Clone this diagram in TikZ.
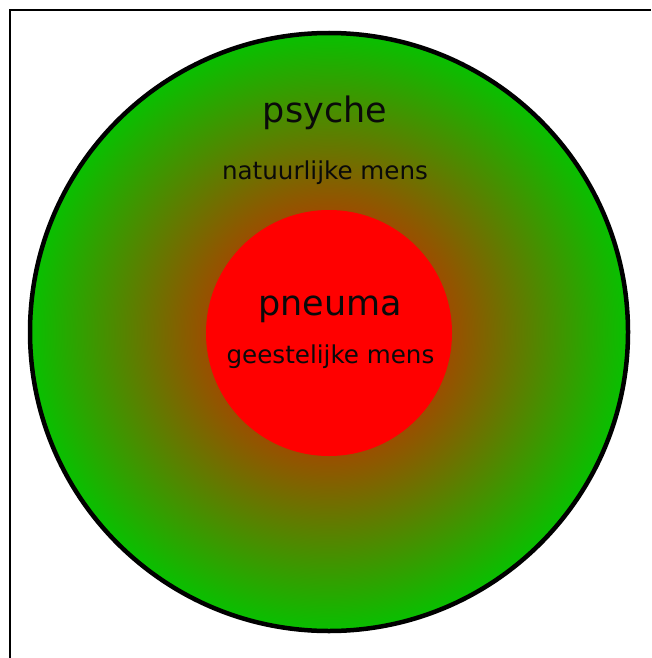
\documentclass[tikz,border=0pt]{standalone}
\usepackage{fontspec}
\setmainfont{DejaVu Sans}
\definecolor{gg}{RGB}{8,192,0}
\definecolor{txt}{RGB}{10,10,10}
\pgfdeclareradialshading{rgshade}{\pgfpoint{0bp}{0bp}}{color(0bp)=(red); color(25bp)=(gg); color(50bp)=(gg)}
\tikzset{
  big/.style={font=\fontsize{35}{40}\selectfont, text=txt, inner sep=0pt, anchor=base},
  small/.style={font=\fontsize{24.6}{28}\selectfont, text=txt, inner sep=0pt, anchor=base},
}
\begin{document}
\begin{tikzpicture}[x=1pt,y=-1pt]
\useasboundingbox (0,0) rectangle (651,658);
\fill[white] (0,0) rectangle (651,658);
\draw[line width=2.2pt] (10,658) -- (10,10) -- (651,10);
\path[shading=rgshade] (329,332) circle[radius=299];
\draw[line width=4.5pt] (329,332) circle[radius=299];
\fill[red] (329,333) circle[radius=123];
\node[big] (psyche) at (325,123) {psyche};
\node[small] (nat) at (325,179) {natuurlijke mens};
\node[big] (pneuma) at (330,315) {pneuma};
\node[small] (geest) at (330.5,363) {geestelijke mens};
\end{tikzpicture}
\end{document}
